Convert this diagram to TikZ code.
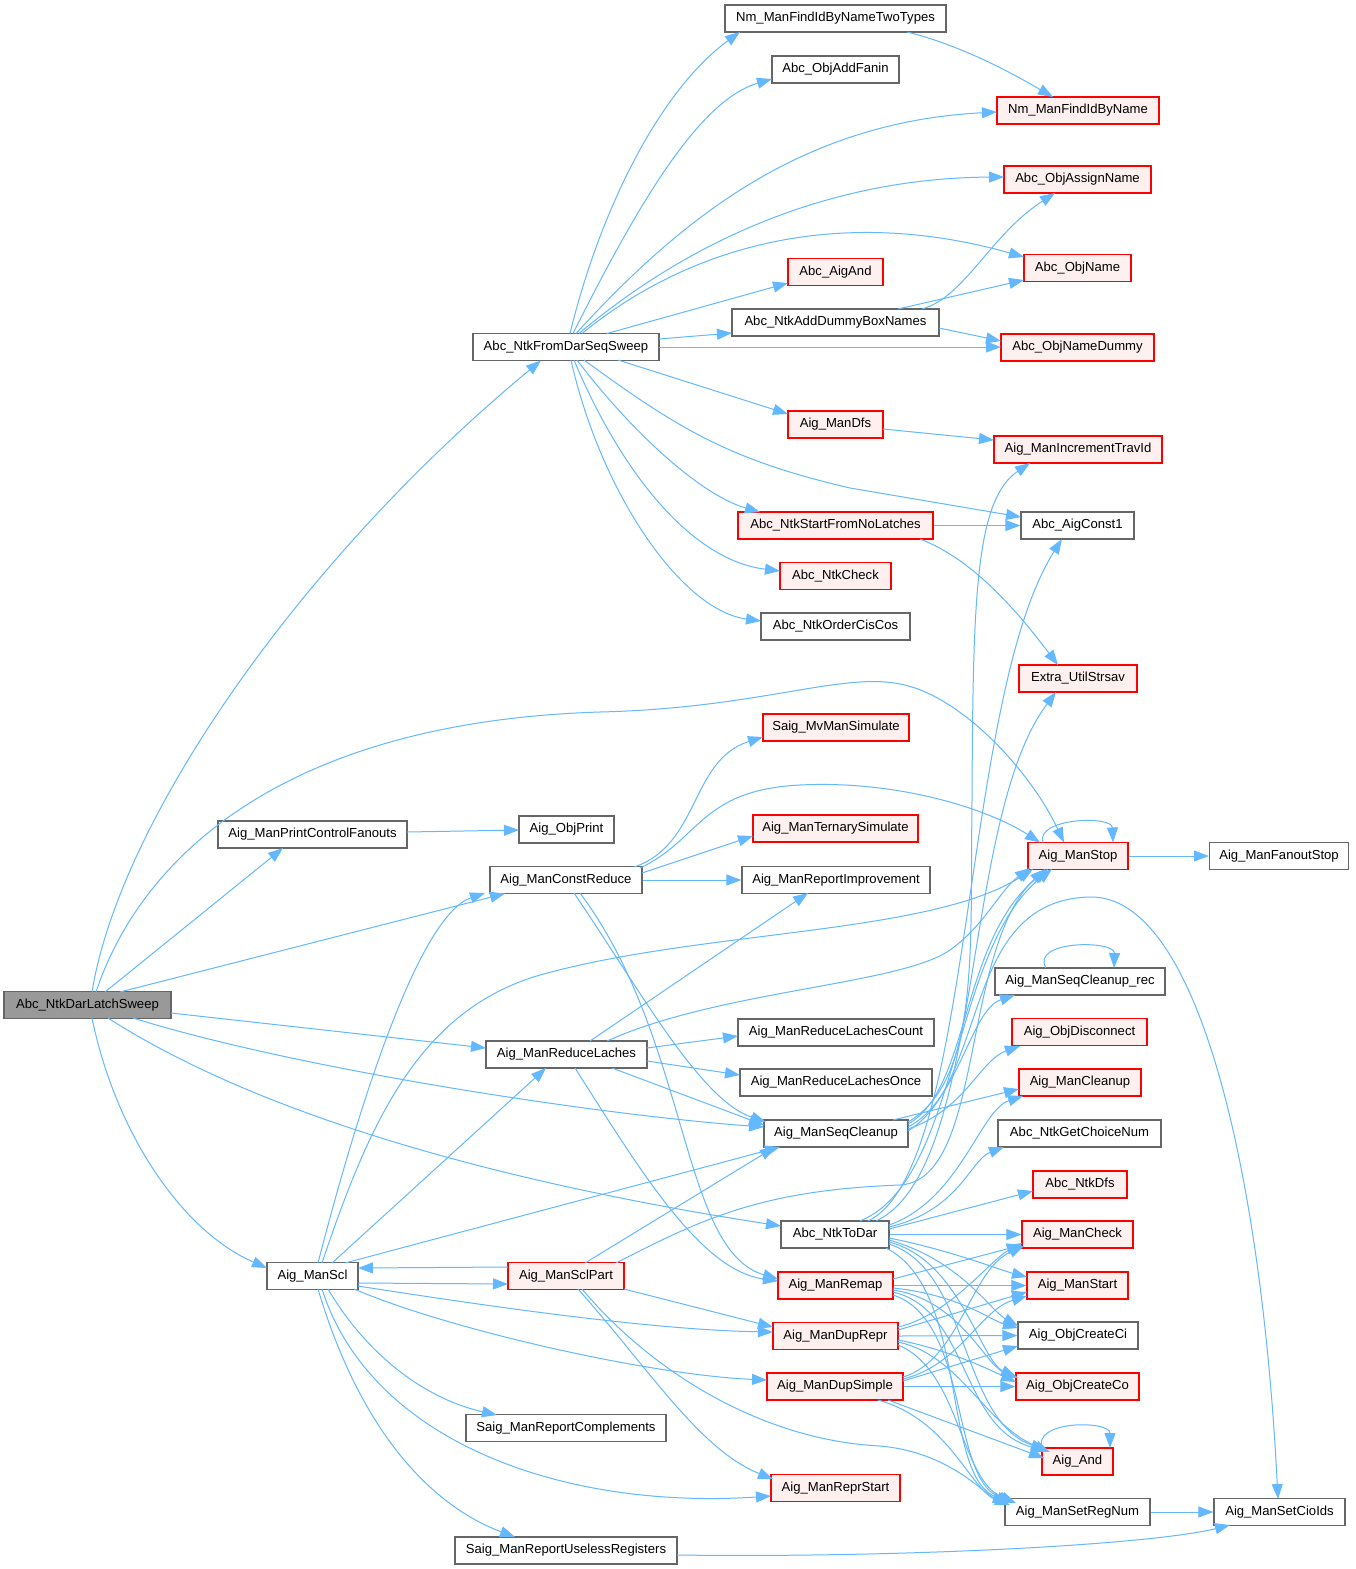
\documentclass[tikz,border=0pt]{standalone}
\usepackage{fontspec}
\setmainfont{Liberation Sans}
\usetikzlibrary{arrows.meta,calc}
\definecolor{edgec}{HTML}{63B8FF}
\definecolor{redb}{HTML}{FF0000}
\definecolor{redf}{HTML}{FFF0F0}
\definecolor{grayb}{HTML}{666666}
\definecolor{rootf}{HTML}{999999}
\begin{document}
\begin{tikzpicture}[x=1pt,y=-1pt,
  >={Triangle[length=15pt,width=11pt]},
  nb/.style={draw=grayb, fill=white, line width=1.2pt, inner sep=0pt, minimum height=27pt, font=\fontsize{13.1}{15}\selectfont, anchor=center},
  rb/.style={nb, draw=redb, fill=redf},
  rootb/.style={nb, fill=rootf},
  cedge/.style={draw=edgec, line width=1pt, ->}]
\useasboundingbox (0,0) rectangle (1355,1569);
\fill[white] (0,0) rectangle (1355,1569);
% nodes
\node[rootb,minimum width=167pt] (root) at (87.5,1005) {Abc\_NtkDarLatchSweep};
\node[nb,minimum width=91pt] (scl) at (312.5,1276) {Aig\_ManScl};
\node[nb,minimum width=186pt] (fdss) at (566,347) {Abc\_NtkFromDarSeqSweep};
\node[nb,minimum width=221pt] (nmtt) at (835.5,18.5) {Nm\_ManFindIdByNameTwoTypes};
\node[nb,minimum width=127pt] (oaf) at (835.5,69.5) {Abc\_ObjAddFanin};
\node[rb,minimum width=95pt] (aigand) at (835.5,272) {Abc\_AigAnd};
\node[nb,minimum width=207pt] (dummybox) at (835.5,322.5) {Abc\_NtkAddDummyBoxNames};
\node[rb,minimum width=162pt] (nmfind) at (1078,110.5) {Nm\_ManFindIdByName};
\node[rb,minimum width=147pt] (assign) at (1077.5,179.5) {Abc\_ObjAssignName};
\node[rb,minimum width=107pt] (objname) at (1077.5,268) {Abc\_ObjName};
\node[rb,minimum width=153pt] (namedummy) at (1077.5,347.5) {Abc\_ObjNameDummy};
\node[rb,minimum width=95pt] (mandfs) at (835.5,424.5) {Aig\_ManDfs};
\node[rb,minimum width=195pt] (startnl) at (835.5,525.5) {Abc\_NtkStartFromNoLatches};
\node[rb,minimum width=111pt] (ntkcheck) at (835.5,576) {Abc\_NtkCheck};
\node[nb,minimum width=149pt] (ordercis) at (835.5,626.5) {Abc\_NtkOrderCisCos};
\node[rb,minimum width=168pt] (travid) at (1078,449.5) {Aig\_ManIncrementTravId};
\node[nb,minimum width=113pt] (const1) at (1077.5,525.5) {Abc\_AigConst1};
\node[rb,minimum width=118pt] (strsav) at (1078,678.5) {Extra\_UtilStrsav};
\node[rb,minimum width=146pt] (mvsim) at (836,727.5) {Saig\_MvManSimulate};
\node[nb,minimum width=189pt] (pcf) at (312.5,834.5) {Aig\_ManPrintControlFanouts};
\node[nb,minimum width=95pt] (objprint) at (566.5,829.5) {Aig\_ObjPrint};
\node[nb,minimum width=152pt] (constred) at (566,880) {Aig\_ManConstReduce};
\node[rb,minimum width=165pt] (ternary) at (835.5,828.5) {Aig\_ManTernarySimulate};
\node[nb,minimum width=188pt] (reportimp) at (836,880) {Aig\_ManReportImprovement};
\node[rb,minimum width=100pt] (manstop) at (1078,856) {Aig\_ManStop};
\node[nb,minimum width=139pt] (fanoutstop) at (1279,856) {Aig\_ManFanoutStop};
\node[nb,minimum width=170pt] (seqrec) at (1080,981.5) {Aig\_ManSeqCleanup\_rec};
\node[rb,minimum width=135pt] (disconnect) at (1079.5,1032) {Aig\_ObjDisconnect};
\node[rb,minimum width=122pt] (cleanup) at (1080,1082.5) {Aig\_ManCleanup};
\node[nb,minimum width=163pt] (choice) at (1079.5,1133.5) {Abc\_NtkGetChoiceNum};
\node[rb,minimum width=94pt] (ntkdfs) at (1080,1184.5) {Abc\_NtkDfs};
\node[nb,minimum width=196pt] (rlcount) at (836,1032.5) {Aig\_ManReduceLachesCount};
\node[nb,minimum width=192pt] (rlonce) at (836,1082.5) {Aig\_ManReduceLachesOnce};
\node[nb,minimum width=144pt] (seqclean) at (836,1133.5) {Aig\_ManSeqCleanup};
\node[nb,minimum width=161pt] (redlaches) at (566.5,1054.5) {Aig\_ManReduceLaches};
\node[nb,minimum width=108pt] (ntktodar) at (835,1234.5) {Abc\_NtkToDar};
\node[rb,minimum width=116pt] (sclpart) at (566,1276) {Aig\_ManSclPart};
\node[rb,minimum width=115pt] (remap) at (835.5,1285.5) {Aig\_ManRemap};
\node[rb,minimum width=125pt] (duprepr) at (835.5,1336) {Aig\_ManDupRepr};
\node[rb,minimum width=136pt] (dupsimple) at (835,1386.5) {Aig\_ManDupSimple};
\node[nb,minimum width=200pt] (repcomp) at (566,1428) {Saig\_ManReportComplements};
\node[rb,minimum width=129pt] (reprstart) at (835.5,1488) {Aig\_ManReprStart};
\node[nb,minimum width=222pt] (useless) at (566,1550.5) {Saig\_ManReportUselessRegisters};
\node[rb,minimum width=111pt] (mancheck) at (1077.5,1234.5) {Aig\_ManCheck};
\node[rb,minimum width=101pt] (manstart) at (1077.5,1285.5) {Aig\_ManStart};
\node[nb,minimum width=120pt] (createci) at (1078,1335.5) {Aig\_ObjCreateCi};
\node[rb,minimum width=123pt] (createco) at (1077.5,1386.5) {Aig\_ObjCreateCo};
\node[rb,minimum width=71pt] (aigand2) at (1077.5,1461.5) {Aig\_And};
\node[nb,minimum width=145pt] (setregnum) at (1077.5,1512) {Aig\_ManSetRegNum};
\node[nb,minimum width=131pt] (setcioids) at (1279.5,1512) {Aig\_ManSetCioIds};
% root edges
\draw[cedge] ($(root)+(4.5,-13)$) .. controls (120,820) and (300,560) .. ($(fdss)+(-25,13.5)$);
\draw[cedge] ($(root)+(8.5,-13)$) .. controls (140,860) and (280,722) .. (600,712) .. controls (760,708) and (840,672) .. (900,684) .. controls (960,695) and (1030,770) .. ($(manstop)+(-14,-13.5)$);
\draw[cedge] ($(root)+(17.5,-13)$) -- ($(pcf)+(-29.5,13.5)$);
\draw[cedge] ($(root)+(32.5,-13)$) -- ($(constred)+(-61,13.5)$);
\draw[cedge] ($(root)+(83.5,8)$) -- ($(redlaches)+(-80.5,-6.5)$);
\draw[cedge] ($(root)+(45.5,13)$) .. controls (300,1070) and (600,1115) .. ($(seqclean)+(-72,-6.5)$);
\draw[cedge] ($(root)+(20.5,13)$) .. controls (220,1090) and (420,1170) .. ($(ntktodar)+(-54,-8.5)$);
\draw[cedge] ($(root)+(4.5,13)$) .. controls (115,1130) and (180,1230) .. ($(scl)+(-45.5,-8)$);
% fdss edges
\draw[cedge] ($(fdss)+(4,-13.5)$) .. controls (600,210) and (660,90) .. ($(nmtt)+(-95.5,13.5)$);
\draw[cedge] ($(fdss)+(7,-13.5)$) .. controls (640,200) and (700,100) .. ($(oaf)+(-63.5,9.5)$);
\draw[cedge] ($(fdss)+(10,-13.5)$) .. controls (680,220) and (800,122) .. ($(nmfind)+(-81,1.5)$);
\draw[cedge] ($(fdss)+(13,-13.5)$) .. controls (690,240) and (830,178) .. ($(assign)+(-73.5,-2.5)$);
\draw[cedge] ($(fdss)+(16,-13.5)$) .. controls (690,245) and (840,205) .. ($(objname)+(-53.5,-11)$);
\draw[cedge] ($(fdss)+(41,-13.5)$) -- ($(aigand)+(-47.5,11)$);
\draw[cedge] ($(fdss)+(93,-8)$) -- ($(dummybox)+(-103.5,10.5)$);
\draw[cedge] ($(fdss)+(93,0)$) -- ($(namedummy)+(-76.5,-0.5)$);
\draw[cedge] ($(fdss)+(52,13)$) -- ($(mandfs)+(-47.5,-10.5)$);
\draw[cedge] ($(fdss)+(18,13)$) .. controls (680,430) and (730,460) .. (850,488) -- ($(const1)+(-56.5,-8.5)$);
\draw[cedge] ($(fdss)+(11,13)$) .. controls (630,430) and (700,495) .. ($(startnl)+(-75.5,-13.5)$);
\draw[cedge] ($(fdss)+(8,13)$) .. controls (620,470) and (690,560) .. ($(ntkcheck)+(-55.5,-5)$);
\draw[cedge] ($(fdss)+(5,13)$) .. controls (600,490) and (680,610) .. ($(ordercis)+(-74.5,-5.5)$);
% misc upper
\draw[cedge] ($(nmtt)+(71.5,13.5)$) .. controls (960,45) and (1010,72) .. ($(nmfind)+(-25,-13.5)$);
\draw[cedge] ($(dummybox)+(86.5,-13.5)$) .. controls (965,297) and (990,235) .. ($(assign)+(-22.5,13.5)$);
\draw[cedge] ($(dummybox)+(62.5,-13.5)$) -- ($(objname)+(-53.5,12)$);
\draw[cedge] ($(dummybox)+(103.5,5.5)$) -- ($(namedummy)+(-76.5,-6.5)$);
\draw[cedge] ($(mandfs)+(47.5,4.5)$) -- ($(travid)+(-84,-9.5)$);
\draw[cedge] (startnl.east) -- (const1.west);
\draw[cedge] ($(startnl)+(84.5,13.5)$) .. controls (975,560) and (1020,615) .. ($(strsav)+(-20,-13.5)$);
\draw[cedge] ($(pcf)+(94.5,-2.5)$) -- ($(objprint)+(-47.5,0.5)$);
% constred
\draw[cedge] ($(constred)+(68,-13)$) .. controls (700,845) and (690,760) .. ($(mvsim)+(-73,9.5)$);
\draw[cedge] ($(constred)+(74,-12)$) .. controls (700,840) and (700,790) .. (800,785) .. controls (900,780) and (990,810) .. ($(manstop)+(-38,-13.5)$);
\draw[cedge] ($(constred)+(76,-7)$) -- ($(ternary)+(-82.5,7.5)$);
\draw[cedge] (constred.east) -- (reportimp.west);
\draw[cedge] ($(constred)+(8,13)$) .. controls (640,990) and (700,1100) .. ($(seqclean)+(-70,-11.5)$);
\draw[cedge] ($(constred)+(14,13)$) .. controls (690,1040) and (680,1250) .. ($(remap)+(-57.5,-6.5)$);
% redlaches
\draw[cedge] ($(redlaches)+(23.5,-13.5)$) -- ($(reportimp)+(-28,13)$);
\draw[cedge] ($(redlaches)+(40.5,-13.5)$) .. controls (720,990) and (900,985) .. (950,950) .. controls (985,925) and (1000,890) .. ($(manstop)+(-48,12)$);
\draw[cedge] ($(redlaches)+(80.5,-6.5)$) -- ($(rlcount)+(-98,3.5)$);
\draw[cedge] ($(redlaches)+(80.5,6.5)$) -- ($(rlonce)+(-96,-7.5)$);
\draw[cedge] ($(redlaches)+(45.5,13.5)$) -- ($(seqclean)+(-72,-8.5)$);
\draw[cedge] ($(redlaches)+(8.5,13.5)$) .. controls (640,1170) and (700,1270) .. ($(remap)+(-57.5,-4.5)$);
% scl
\draw[cedge] ($(scl)+(5.5,-13)$) .. controls (360,1100) and (420,915) .. ($(constred)+(-81,13)$);
\draw[cedge] ($(scl)+(9.5,-13)$) .. controls (370,1120) and (420,1010) .. (540,975) .. controls (700,930) and (930,935) .. ($(manstop)+(-45,13)$);
\draw[cedge] ($(scl)+(19.5,-13)$) -- ($(redlaches)+(-20.5,13.5)$);
\draw[cedge] ($(scl)+(32.5,-13)$) -- ($(seqclean)+(-56,13.5)$);
\draw[cedge] ($(scl)+(45.5,7)$) -- ($(sclpart)+(-58,8)$);
\draw[cedge] ($(sclpart)+(-58,-9)$) -- ($(scl)+(45.5,-8)$);
\draw[cedge] ($(scl)+(45.5,10)$) .. controls (480,1305) and (650,1330) .. ($(duprepr)+(-62.5,-4)$);
\draw[cedge] ($(scl)+(41.5,13)$) .. controls (450,1330) and (650,1375) .. ($(dupsimple)+(-68,-6.5)$);
\draw[cedge] ($(scl)+(15.5,13)$) .. controls (370,1360) and (430,1400) .. ($(repcomp)+(-69,-13)$);
\draw[cedge] ($(scl)+(9.5,13)$) .. controls (370,1440) and (560,1510) .. ($(reprstart)+(-64.5,8)$);
\draw[cedge] ($(scl)+(5.5,13)$) .. controls (360,1430) and (430,1505) .. ($(useless)+(-51,-13.5)$);
% sclpart
\draw[cedge] ($(sclpart)+(19,-13)$) -- ($(seqclean)+(-61,13.5)$);
\draw[cedge] ($(sclpart)+(50,-13)$) .. controls (700,1220) and (760,1190) .. (900,1185) .. controls (985,1180) and (960,950) .. ($(manstop)+(-33,13)$);
\draw[cedge] ($(sclpart)+(58,13)$) -- ($(duprepr)+(-62.5,-9)$);
\draw[cedge] ($(sclpart)+(12,13)$) .. controls (650,1370) and (700,1450) .. ($(reprstart)+(-62.5,-9)$);
\draw[cedge] ($(sclpart)+(16,13)$) .. controls (650,1370) and (760,1440) .. (880,1446) .. controls (950,1452) and (985,1495) .. ($(setregnum)+(-69.5,-10)$);
% seqclean
\draw[cedge] ($(seqclean)+(72,-9.5)$) .. controls (970,1090) and (960,940) .. ($(manstop)+(-30,13)$);
\draw[cedge] ($(seqclean)+(72,-6.5)$) .. controls (960,1100) and (970,1010) .. ($(seqrec)+(-65,13.5)$);
\draw[cedge] ($(seqclean)+(72,-4.5)$) .. controls (965,1110) and (980,1060) .. ($(disconnect)+(-59.5,14)$);
\draw[cedge] ($(seqclean)+(57,-13.5)$) -- ($(cleanup)+(-61,6.5)$);
\draw[cedge] ($(seqclean)+(72,-2.5)$) .. controls (990,1080) and (960,900) .. (1090,897) .. controls (1200,895) and (1262,1180) .. ($(setcioids)+(-1.5,-13)$);
\draw[cedge] ($(seqclean)+(72,-11.5)$) .. controls (980,1080) and (970,950) .. (972,800) .. controls (973,600) and (975,500) .. ($(travid)+(-48,13.5)$);
% ntktodar
\draw[cedge] ($(ntktodar)+(25,-13.5)$) .. controls (960,1180) and (950,950) .. ($(manstop)+(-26,13)$);
\draw[cedge] ($(ntktodar)+(33,-13.5)$) .. controls (975,1170) and (960,700) .. ($(const1)+(-15.5,13.5)$);
\draw[cedge] ($(ntktodar)+(41,-13.5)$) .. controls (985,1170) and (960,820) .. ($(strsav)+(-22,13.5)$);
\draw[cedge] ($(ntktodar)+(54,-9.5)$) .. controls (960,1200) and (980,1110) .. ($(cleanup)+(-57,13.5)$);
\draw[cedge] ($(ntktodar)+(54,-7.5)$) .. controls (960,1210) and (970,1160) .. ($(choice)+(-75.5,13.5)$);
\draw[cedge] ($(ntktodar)+(54,-5.5)$) -- ($(ntkdfs)+(-47,6.5)$);
\draw[cedge] (ntktodar.east) -- (mancheck.west);
\draw[cedge] ($(ntktodar)+(54,3.5)$) .. controls (950,1250) and (1000,1270) .. ($(manstart)+(-50.5,-8.5)$);
\draw[cedge] ($(ntktodar)+(54,5.5)$) .. controls (960,1260) and (990,1310) .. ($(createci)+(-60,-9.5)$);
\draw[cedge] ($(ntktodar)+(54,7.5)$) .. controls (960,1260) and (980,1360) .. ($(createco)+(-61.5,-9.5)$);
\draw[cedge] ($(ntktodar)+(54,9.5)$) .. controls (970,1270) and (960,1420) .. ($(aigand2)+(-31.5,-11.5)$);
\draw[cedge] ($(ntktodar)+(51,13.5)$) .. controls (970,1290) and (940,1480) .. ($(setregnum)+(-65.5,-10)$);
% remap
\draw[cedge] ($(remap)+(57.5,-6.5)$) -- ($(mancheck)+(-55.5,10.5)$);
\draw[cedge] (remap.east) -- (manstart.west);
\draw[cedge] ($(remap)+(57.5,2.5)$) .. controls (960,1295) and (990,1320) .. ($(createci)+(-60,-7.5)$);
\draw[cedge] ($(remap)+(57.5,4.5)$) .. controls (960,1300) and (985,1365) .. ($(createco)+(-59.5,-8.5)$);
\draw[cedge] ($(remap)+(57.5,6.5)$) .. controls (970,1310) and (960,1430) .. ($(aigand2)+(-29.5,-10.5)$);
\draw[cedge] ($(remap)+(57.5,9.5)$) .. controls (970,1320) and (950,1480) .. ($(setregnum)+(-63.5,-10)$);
% duprepr
\draw[cedge] ($(duprepr)+(62.5,-9)$) .. controls (950,1315) and (990,1260) .. ($(mancheck)+(-55.5,8.5)$);
\draw[cedge] ($(duprepr)+(62.5,-6)$) -- ($(manstart)+(-50.5,6.5)$);
\draw[cedge] (duprepr.east) -- (createci.west);
\draw[cedge] ($(duprepr)+(62.5,4)$) .. controls (950,1350) and (990,1370) .. ($(createco)+(-61.5,-4.5)$);
\draw[cedge] ($(duprepr)+(62.5,6)$) .. controls (960,1355) and (985,1425) .. ($(aigand2)+(-27.5,-9.5)$);
\draw[cedge] ($(duprepr)+(62.5,9)$) .. controls (960,1370) and (960,1480) .. ($(setregnum)+(-61.5,-9)$);
% dupsimple
\draw[cedge] ($(dupsimple)+(68,-9.5)$) .. controls (960,1360) and (970,1270) .. ($(mancheck)+(-53.5,11.5)$);
\draw[cedge] ($(dupsimple)+(68,-7.5)$) .. controls (960,1365) and (980,1310) .. ($(manstart)+(-50.5,10.5)$);
\draw[cedge] ($(dupsimple)+(68,-5.5)$) -- ($(createci)+(-60,10.5)$);
\draw[cedge] (dupsimple.east) -- (createco.west);
\draw[cedge] ($(dupsimple)+(53,13.5)$) -- ($(aigand2)+(-33.5,-3.5)$);
\draw[cedge] ($(dupsimple)+(43,13.5)$) .. controls (950,1420) and (970,1490) .. ($(setregnum)+(-67.5,-7)$);
% loops and rest
\draw[cedge] ($(manstop)+(-35,-13.5)$) .. controls (1035,818) and (1112,815) .. ($(manstop)+(35,-13.5)$);
\draw[cedge] ($(seqrec)+(-34,-13.5)$) .. controls (1030,940) and (1115,940) .. ($(seqrec)+(34,-13.5)$);
\draw[cedge] ($(aigand2)+(-35,-12)$) .. controls (1030,1420) and (1110,1420) .. ($(aigand2)+(32.5,-13.5)$);
\draw[cedge] (setregnum.east) -- (setcioids.west);
\draw[cedge] ($(useless)+(111,4.5)$) .. controls (900,1558) and (1150,1545) .. ($(setcioids)+(-49.5,13)$);
\draw[cedge] (manstop.east) -- (fanoutstop.west);
\end{tikzpicture}
\end{document}
